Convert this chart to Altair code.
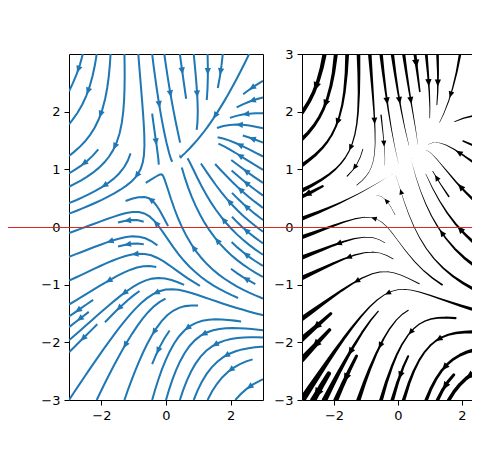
import numpy as np
import pandas as pd
import altair as alt

# ---------------- data ----------------
EXTENT = [-3.0, 3.0]          # x and y range of the vector-field grid
GRID_N = 100                  # grid points per axis
# field:  U = U_COEF[0] + U_COEF[1]*x^2 + U_COEF[2]*y
#         V = V_COEF[0] + V_COEF[1]*x   + V_COEF[2]*y^2
U_COEF = [-1.0, -1.0, 1.0]
V_COEF = [1.0, 1.0, -1.0]
LEFT_DENSITY = [0.5, 1.0]
RIGHT_DENSITY = [0.6, 0.6]
LEFT_LW_PT = 1.5              # constant line width (pt), left panel
RIGHT_LW_MAX_PT = 5.0         # max line width (pt), right panel (scaled by speed)
X_TICKS = [-2, 0, 2]
LEFT_Y_TICKS = [-3, -2, -1, 0, 1, 2]
RIGHT_Y_TICKS = [-3, -2, -1, 0, 1, 2, 3]
RIGHT_X_VISIBLE = [-3.0, 2.3125]   # right panel is cut off by the figure edge

# ---------------- styling ----------------
LPW, RPW, PH = 194, 170, 346
PT = 1.35                      # px per pt
BLUE = "#1f77b4"
RED = "#d62a1e"

xs = np.linspace(EXTENT[0], EXTENT[1], GRID_N)
ys = np.linspace(EXTENT[0], EXTENT[1], GRID_N)
Y, X = np.meshgrid(ys, xs, indexing="ij")
U = U_COEF[0] + U_COEF[1] * X**2 + U_COEF[2] * Y
V = V_COEF[0] + V_COEF[1] * X + V_COEF[2] * Y**2
SPEED = np.sqrt(U**2 + V**2)
LW_GRID = RIGHT_LW_MAX_PT * SPEED / SPEED.max()


class OutOfBounds(Exception):
    pass


class Terminate(Exception):
    pass


class InvalidIndex(Exception):
    pass


def interp(a, xi, yi):
    Ny, Nx = a.shape
    x = int(xi)
    y = int(yi)
    xn = x if x == Nx - 1 else x + 1
    yn = y if y == Ny - 1 else y + 1
    xt = xi - x
    yt = yi - y
    a0 = a[y][x] * (1 - xt) + a[y][xn] * xt
    a1 = a[yn][x] * (1 - xt) + a[yn][xn] * xt
    return a0 * (1 - yt) + a1 * yt


def interp_arr(a, xi, yi):
    Ny, Nx = a.shape
    x = xi.astype(int)
    y = yi.astype(int)
    xn = np.clip(x + 1, 0, Nx - 1)
    yn = np.clip(y + 1, 0, Ny - 1)
    xt = xi - x
    yt = yi - y
    a0 = a[y, x] * (1 - xt) + a[y, xn] * xt
    a1 = a[yn, x] * (1 - xt) + a[yn, xn] * xt
    return a0 * (1 - yt) + a1 * yt


def gen_start(shape):
    ny, nx = shape
    xfirst, yfirst, xlast, ylast = 0, 1, nx - 1, ny - 1
    x, y = 0, 0
    d = "right"
    for _ in range(nx * ny):
        yield x, y
        if d == "right":
            x += 1
            if x >= xlast:
                xlast -= 1
                d = "up"
        elif d == "up":
            y += 1
            if y >= ylast:
                ylast -= 1
                d = "left"
        elif d == "left":
            x -= 1
            if x <= xfirst:
                xfirst += 1
                d = "down"
        elif d == "down":
            y -= 1
            if y <= yfirst:
                yfirst += 1
                d = "right"


def streamlines(density, minlength=0.1, maxlength=4.0):
    nx = ny = GRID_N
    dx = xs[1] - xs[0]
    dy = ys[1] - ys[0]
    mnx, mny = (30 * np.broadcast_to(np.asarray(density, float), 2)).astype(int)
    mask = np.zeros((mny, mnx))
    g2m_x = (mnx - 1) / (nx - 1)
    g2m_y = (mny - 1) / (ny - 1)
    ug_a = U / dx
    vg_a = V / dy
    spd_a = np.sqrt((ug_a / (nx - 1)) ** 2 + (vg_a / (ny - 1)) ** 2)
    st = {"cur": None, "traj": []}

    def within(xi, yi):
        return 0 <= xi <= nx - 1 and 0 <= yi <= ny - 1

    def g2m(xi, yi):
        return int(round(float(xi) * g2m_x)), int(round(float(yi) * g2m_y))

    def upd(xm, ym):
        if st["cur"] != (xm, ym):
            if mask[ym, xm] == 0:
                st["traj"].append((ym, xm))
                mask[ym, xm] = 1
                st["cur"] = (xm, ym)
            else:
                raise InvalidIndex

    def start(xg, yg):
        st["traj"] = []
        upd(*g2m(xg, yg))

    def reset(xg, yg):
        st["cur"] = g2m(xg, yg)

    def update(xg, yg):
        if not within(xg, yg):
            raise InvalidIndex
        upd(*g2m(xg, yg))

    def undo():
        for t in st["traj"]:
            mask[t] = 0

    def fwd(xi, yi):
        if not within(xi, yi):
            raise OutOfBounds
        ds_dt = interp(spd_a, xi, yi)
        if ds_dt == 0:
            raise Terminate
        dt_ds = 1.0 / ds_dt
        return interp(ug_a, xi, yi) * dt_ds, interp(vg_a, xi, yi) * dt_ds

    def bwd(xi, yi):
        a, b = fwd(xi, yi)
        return -a, -b

    maxds = min(1.0 / mnx, 1.0 / mny, 0.1)

    def euler(traj, f):
        xi, yi = traj[-1]
        cx, cy = f(xi, yi)
        if cx == 0:
            dsx = np.inf
        elif cx < 0:
            dsx = xi / -cx
        else:
            dsx = (nx - 1 - xi) / cx
        if cy == 0:
            dsy = np.inf
        elif cy < 0:
            dsy = yi / -cy
        else:
            dsy = (ny - 1 - yi) / cy
        ds = min(dsx, dsy)
        traj.append((xi + cx * ds, yi + cy * ds))
        return ds, traj

    def rk12(x0, y0, f):
        maxerror = 0.003
        ds = maxds
        stotal = 0.0
        xi, yi = x0, y0
        traj = []
        while True:
            try:
                if within(xi, yi):
                    traj.append((xi, yi))
                else:
                    raise OutOfBounds
                k1x, k1y = f(xi, yi)
                k2x, k2y = f(xi + ds * k1x, yi + ds * k1y)
            except OutOfBounds:
                if traj:
                    d_s, traj = euler(traj, f)
                    stotal += d_s
                break
            except Terminate:
                break
            dx1 = ds * k1x
            dy1 = ds * k1y
            dx2 = ds * 0.5 * (k1x + k2x)
            dy2 = ds * 0.5 * (k1y + k2y)
            error = float(np.hypot((dx2 - dx1) / (nx - 1), (dy2 - dy1) / (ny - 1)))
            if error < maxerror:
                xi += dx2
                yi += dy2
                try:
                    update(xi, yi)
                except InvalidIndex:
                    break
                if stotal + ds > maxlength:
                    break
                stotal += ds
            if error == 0:
                ds = maxds
            else:
                ds = min(maxds, 0.85 * ds * (maxerror / error) ** 0.5)
        return stotal, traj

    def integrate(x0, y0):
        try:
            start(x0, y0)
        except InvalidIndex:
            return None
        stotal = 0.0
        xy = []
        s, t = rk12(x0, y0, bwd)
        stotal += s
        xy += t[::-1]
        reset(x0, y0)
        s, t = rk12(x0, y0, fwd)
        stotal += s
        xy += t[1:]
        if stotal > minlength:
            return np.array(xy, dtype=float)
        undo()
        return None

    trajs = []
    for xm, ym in gen_start(mask.shape):
        if mask[ym, xm] == 0:
            xg = xm * (1.0 / g2m_x)
            yg = ym * (1.0 / g2m_y)
            t = integrate(xg, yg)
            if t is not None:
                trajs.append(t)
    return trajs, dx, dy


def build(density, varying, sx):
    trajs, dx, dy = streamlines(density)
    lines, arrows = [], []
    sy = PH / (EXTENT[1] - EXTENT[0])
    for k, t in enumerate(trajs):
        tgx, tgy = t[:, 0], t[:, 1]
        tx = tgx * dx + xs[0]
        ty = tgy * dy + ys[0]
        if varying:
            w = interp_arr(LW_GRID, tgx, tgy)
        else:
            w = np.full(len(tx), LEFT_LW_PT)
        for i in range(len(tx)):
            lines.append({"x": tx[i], "y": ty[i], "id": k, "i": i, "w": w[i] * PT})
        s = np.cumsum(np.hypot(np.diff(tx), np.diff(ty)))
        n = int(np.searchsorted(s, s[-1] / 2.0))
        hx, hy = np.mean(tx[n:n + 2]), np.mean(ty[n:n + 2])
        m = min(n + 1, len(tx) - 1)
        ddx, ddy = tx[m] - tx[n], ty[m] - ty[n]
        ang = np.degrees(np.arctan2(ddx * sx, ddy * sy)) % 360.0
        alw = w[min(n, len(w) - 1)]
        side = (4.0 + alw) * PT
        arrows.append({"x": hx, "y": hy, "angle": float(ang), "size": side * side})
    return pd.DataFrame(lines), pd.DataFrame(arrows)


SX_L = LPW / (EXTENT[1] - EXTENT[0])
SX_R = RPW / (RIGHT_X_VISIBLE[1] - RIGHT_X_VISIBLE[0])
left_lines, left_arrows = build(LEFT_DENSITY, False, SX_L)
right_lines, right_arrows = build(RIGHT_DENSITY, True, SX_R)

ARROW = "M0,-1L0.85,0.9L-0.85,0.9Z"


def panel(lines, arrows, yticks, color, varying, xdom, width, extra=None, frame=True):
    xs_ = alt.Scale(domain=xdom, nice=False, zero=False)
    ys_ = alt.Scale(domain=EXTENT, nice=False, zero=False)
    dom = not frame
    xenc = alt.X("x:Q", scale=xs_,
                 axis=alt.Axis(values=X_TICKS, title=None, format="d", domain=dom,
                               domainColor="black"))
    yenc = alt.Y("y:Q", scale=ys_,
                 axis=alt.Axis(values=yticks, title=None, format="d", domain=dom,
                               domainColor="black"))
    base = alt.Chart(lines)
    if varying:
        ln = base.mark_trail(color=color, clip=True).encode(
            x=xenc, y=yenc, detail="id:N", order="i:Q",
            size=alt.Size("w:Q", scale=None, legend=None))
    else:
        ln = base.mark_line(color=color, strokeWidth=LEFT_LW_PT * PT, clip=True).encode(
            x=xenc, y=yenc, detail="id:N", order="i:Q")
    ar = alt.Chart(arrows).mark_point(shape=ARROW, filled=True, opacity=1,
                                      color=color, strokeWidth=0, clip=True).encode(
        x="x:Q", y="y:Q",
        angle=alt.Angle("angle:Q", scale=None),
        size=alt.Size("size:Q", scale=None, legend=None))
    layers = [ln, ar]
    if extra:
        layers += extra
    out = alt.layer(*layers).properties(width=width, height=PH)
    if not frame:
        out = out.properties(view=alt.ViewConfig(strokeOpacity=0))
    return out


red = alt.Chart(pd.DataFrame({"y": [0.0]})).mark_rule(
    color=RED, strokeWidth=1.2, yOffset=0.5).encode(
    y="y:Q", x=alt.value(-302), x2=alt.value(RPW))
top_edge = alt.Chart(pd.DataFrame({"y": [3.0]})).mark_rule(
    color="black", strokeWidth=1, yOffset=0.5).encode(
    y="y:Q", x=alt.value(0), x2=alt.value(RPW))

left = panel(left_lines, left_arrows, LEFT_Y_TICKS, BLUE, False, EXTENT, LPW)
right = panel(right_lines, right_arrows, RIGHT_Y_TICKS, "black", True,
              RIGHT_X_VISIBLE, RPW, extra=[top_edge, red], frame=False)

chart = alt.hconcat(left, right, spacing=39, bounds="flush").properties(
    autosize=alt.AutoSizeParams(type="none"),
    padding={"left": 61, "top": 46, "right": 403, "bottom": 376}
).configure_view(stroke="black", strokeWidth=1).configure_axis(
    grid=False, domain=False, tickColor="black", tickSize=5, tickWidth=1,
    labelColor="black", labelFont="DejaVu Sans", labelFontSize=13, labelPadding=4
)

chart.save("out.html", embed_options={"renderer": "svg", "actions": False})
